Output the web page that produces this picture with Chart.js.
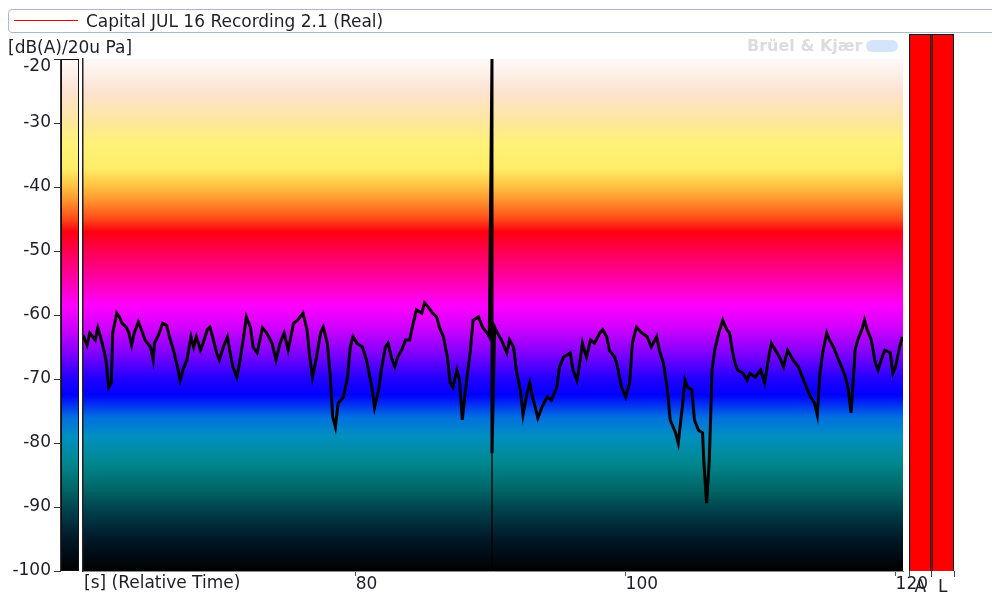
<!DOCTYPE html>
<html><head><meta charset="utf-8">
<script src="https://cdn.jsdelivr.net/npm/chart.js@4.4.1/dist/chart.umd.min.js"></script>
<style>
html,body{margin:0;padding:0;background:#fff;width:992px;height:596px;overflow:hidden;font-family:"DejaVu Sans",sans-serif;color:#1e1e28;}
#main{position:absolute;left:0;top:0;}
#bars{position:absolute;left:905px;top:30px;}
.t{position:absolute;white-space:nowrap;font-size:17px;line-height:20px;}
#lgbox{position:absolute;left:8px;top:9px;width:1000px;height:24px;border:1px solid #a9b9cf;border-radius:4px;box-sizing:border-box;}
#lgline{position:absolute;left:14px;top:20px;width:64px;height:1px;background:#e60000;}
#logo{position:absolute;left:866px;top:40px;width:32px;height:12px;border-radius:6px;background:#d4e4fa;}
</style></head><body>
<canvas id="main" width="992" height="596"></canvas>
<canvas id="bars" width="55" height="566"></canvas>
<div id="lgbox"></div><div id="lgline"></div>
<div class="t" style="left:86px;top:11px;">Capital JUL 16 Recording 2.1 (Real)</div>
<div class="t" style="left:8px;top:37px;">[dB(A)/20u Pa]</div>
<div class="t" style="left:747px;top:36px;font-size:16px;font-weight:bold;color:#dcdcdc;">Brüel &amp; Kjær</div>
<div id="logo"></div>
<div class="t" style="left:84px;top:572px;">[s] (Relative Time)</div>
<script>
// ---- data ----
const timeSec = [59.8,60.1,60.3,60.7,60.9,61.2,61.5,61.7,61.9,62.0,62.3,62.5,62.7,63.0,63.2,63.4,63.6,63.9,64.2,64.4,64.8,65.0,65.1,65.4,65.7,66.0,66.2,66.5,66.8,67.0,67.2,67.5,67.8,68.0,68.2,68.5,68.7,69.0,69.2,69.4,69.7,69.9,70.2,70.5,70.7,70.9,71.2,71.4,71.7,71.9,72.2,72.4,72.7,73.1,73.4,73.8,74.1,74.4,74.7,75.0,75.4,75.7,76.1,76.4,76.6,76.8,77.1,77.4,77.6,77.9,78.1,78.3,78.5,78.7,79.1,79.4,79.6,79.8,80.1,80.5,80.8,81.2,81.4,81.7,81.9,82.2,82.4,82.7,82.9,83.1,83.4,83.7,84.0,84.2,84.5,84.9,85.1,85.4,85.7,86.0,86.2,86.5,86.8,87.0,87.2,87.5,87.7,87.9,88.2,88.5,88.7,89.1,89.4,89.7,89.9,90.1,90.1,90.3,90.5,90.8,91.2,91.4,91.7,91.9,92.2,92.4,92.7,92.9,93.1,93.5,93.8,94.2,94.5,94.9,95.1,95.4,95.9,96.1,96.4,96.6,96.8,97.1,97.4,97.7,98.1,98.3,98.6,98.8,99.2,99.4,99.7,100.0,100.3,100.5,100.8,101.2,101.6,101.9,102.3,102.5,102.8,103.1,103.3,103.7,103.9,104.2,104.4,104.6,104.9,105.1,105.4,105.7,105.8,106.0,106.2,106.3,106.4,106.6,106.9,107.2,107.5,107.7,107.9,108.1,108.3,108.7,109.0,109.2,109.6,110.0,110.3,110.6,110.8,111.1,111.4,111.7,112.0,112.4,112.8,113.1,113.4,113.7,114.0,114.2,114.4,114.6,114.9,115.1,115.4,115.7,116.0,116.3,116.5,116.7,116.9,117.0,117.2,117.5,117.7,117.9,118.2,118.5,118.7,119.0,119.2,119.6,119.8,120.0,120.3,120.5];
const levelDb = [-63.1,-64.7,-62.8,-63.9,-62.0,-64.2,-67.0,-71.3,-70.6,-62.8,-59.7,-60.3,-61.3,-61.9,-62.8,-64.7,-62.8,-61.1,-62.7,-63.9,-65.0,-67.0,-64.4,-63.1,-61.3,-61.6,-63.4,-65.5,-68.1,-70.2,-68.6,-67.0,-63.4,-65.0,-63.4,-65.5,-64.4,-62.3,-61.9,-63.4,-65.9,-67.0,-65.0,-63.4,-65.9,-68.1,-69.7,-67.5,-63.4,-60.3,-61.9,-65.0,-65.9,-62.0,-62.8,-64.4,-67.0,-64.4,-62.8,-65.5,-61.3,-60.8,-59.7,-62.3,-66.6,-69.7,-66.6,-62.8,-61.9,-64.4,-69.1,-75.9,-77.5,-73.8,-72.8,-69.7,-65.0,-63.4,-64.4,-65.0,-67.0,-71.3,-74.4,-71.7,-68.6,-65.0,-64.4,-67.0,-68.1,-66.6,-65.5,-63.9,-63.9,-61.9,-59.2,-59.7,-58.1,-58.8,-59.7,-60.3,-61.9,-63.4,-66.6,-70.6,-71.3,-68.6,-70.2,-76.4,-70.6,-65.5,-60.8,-60.3,-61.9,-62.7,-63.4,-20.0,-81.6,-61.9,-62.8,-63.9,-65.9,-63.9,-65.0,-68.6,-71.7,-75.6,-72.2,-70.6,-72.8,-76.1,-74.4,-72.8,-73.3,-71.3,-68.1,-66.6,-65.9,-68.6,-70.2,-67.5,-64.4,-66.6,-63.9,-64.4,-62.8,-62.3,-63.4,-65.5,-66.6,-68.1,-71.3,-72.8,-70.6,-64.4,-61.9,-62.8,-63.4,-65.0,-63.4,-65.5,-67.5,-71.7,-76.4,-78.4,-80.0,-74.4,-70.2,-71.3,-71.7,-76.4,-78.0,-78.4,-83.1,-89.4,-82.7,-75.9,-68.6,-65.5,-62.8,-60.8,-62.3,-62.8,-65.5,-67.5,-68.6,-69.1,-70.2,-69.1,-69.7,-68.6,-70.6,-66.6,-64.4,-65.5,-66.6,-68.1,-65.5,-67.0,-68.1,-69.7,-71.3,-72.8,-73.8,-75.6,-69.1,-65.9,-62.8,-63.9,-65.0,-66.6,-68.1,-69.7,-71.7,-75.3,-69.1,-65.5,-63.9,-62.3,-60.8,-62.3,-63.9,-67.5,-68.6,-66.6,-65.5,-65.9,-69.1,-68.1,-65.0,-63.4];
const cursorTime = 90.1;
const xRange = [59.8, 120.55];
const yRange = [-100, -20];
const xTickValues = [80, 100, 120];
const yTickValues = [-20, -30, -40, -50, -60, -70, -80, -90, -100];
const meterLabels = ['A', 'L'];
const meterLevels = [-16, -16];
const meterRange = [-100, -16];
const colorMapDb = [-20, -25, -30, -33, -37, -40, -42.5, -45, -47, -50, -54, -58.5, -62, -66, -70, -72.5, -76, -79, -83, -87, -91, -95, -100];
const colorMapHex = ['#fefafa','#fde3d2','#fce79a','#fff27a','#ffee68','#ffc040','#ff8a2a','#ff4a18','#ff0010','#ff0050','#ff00a0','#ff00ff','#d000ff','#8000ff','#2000ff','#0000ff','#0070e0','#0090c0','#008890','#006868','#003c48','#001828','#000000'];

const FONT = {family: '"DejaVu Sans", sans-serif', size: 17, lineHeight: 0.85};
const TXT = '#1e1e28';

function makeGradient(ctx, y) {
  const top = y.getPixelForValue(yRange[1]), bot = y.getPixelForValue(yRange[0]);
  const g = ctx.createLinearGradient(0, top, 0, bot);
  colorMapDb.forEach((v, i) => g.addColorStop((y.getPixelForValue(v) - top) / (bot - top), colorMapHex[i]));
  return g;
}

const bgPlugin = {
  id: 'bg',
  beforeDraw(chart) {
    const {ctx, chartArea: a, scales: {y}} = chart;
    const g = makeGradient(ctx, y);
    ctx.save();
    ctx.fillStyle = g;
    ctx.fillRect(a.left, a.top, a.right - a.left, a.bottom - a.top);
    // colour bar
    const cl = a.left - 22, cr = a.left - 4;
    ctx.fillRect(cl, a.top, cr - cl, a.bottom - a.top);
    ctx.strokeStyle = '#111'; ctx.lineWidth = 1;
    ctx.strokeRect(cl + 0.5, a.top + 0.5, cr - cl - 1, a.bottom - a.top - 1);
    // y tick marks left of the colour bar
    ctx.strokeStyle = '#333';
    ctx.beginPath();
    y.ticks.forEach(t => { const p = Math.round(y.getPixelForValue(t.value)) + 0.5; ctx.moveTo(cl - 7, p); ctx.lineTo(cl, p); });
    ctx.moveTo(cl - 0.5, a.top); ctx.lineTo(cl - 0.5, a.bottom);
    ctx.stroke();
    ctx.restore();
  }
};

new Chart(document.getElementById('main'), {
  type: 'line',
  data: {datasets: [
    {data: timeSec.map((t, i) => ({x: t, y: levelDb[i]})), borderColor: '#000', borderWidth: 3, pointRadius: 0, tension: 0, borderJoinStyle: 'miter'},
    {data: [{x: cursorTime, y: yRange[1]}, {x: cursorTime, y: yRange[0]}], borderColor: '#000', borderWidth: 1.3, pointRadius: 0}
  ]},
  options: {
    animation: false, responsive: false, devicePixelRatio: 1,
    layout: {padding: {left: 0, top: 59, right: 89, bottom: 0}},
    plugins: {legend: {display: false}, tooltip: {enabled: false}},
    scales: {
      x: {type: 'linear', min: xRange[0], max: xRange[1],
        afterBuildTicks: s => { s.ticks = xTickValues.map(v => ({value: v})); },
        afterFit: s => { s.height = 25; },
        ticks: {align: 'start', padding: -2, font: {family: FONT.family, size: 17}, color: TXT, maxRotation: 0, autoSkip: false},
        grid: {drawOnChartArea: false, drawTicks: true, tickLength: 5, color: '#555'},
        border: {display: true, color: '#8a8a8a'}},
      y: {min: yRange[0], max: yRange[1],
        afterBuildTicks: s => { s.ticks = yTickValues.map(v => ({value: v})); },
        afterFit: s => { s.width = 83; },
        ticks: {padding: 0, font: FONT, color: TXT, autoSkip: false,
          callback: v => v === yRange[1] ? ['', String(v)] : String(v)},
        grid: {drawOnChartArea: false, drawTicks: true, tickLength: 32, color: 'rgba(0,0,0,0)'},
        border: {display: true, color: '#222', width: 1.5}}
    }
  },
  plugins: [bgPlugin]
});

new Chart(document.getElementById('bars'), {
  type: 'bar',
  data: {labels: meterLabels, datasets: [{data: meterLevels, base: meterRange[0], backgroundColor: '#ff0000', borderColor: '#1a1a1a', borderWidth: 1.5, barPercentage: 1, categoryPercentage: 1}]},
  options: {
    animation: false, responsive: false, devicePixelRatio: 1,
    layout: {padding: {left: 4, right: 6, top: 4, bottom: 0}},
    plugins: {legend: {display: false}, tooltip: {enabled: false}},
    scales: {
      x: {afterFit: s => { s.height = 25; },
        ticks: {font: {family: FONT.family, size: 17}, color: TXT, padding: 0},
        grid: {drawOnChartArea: false, drawTicks: true, tickLength: 6, color: '#444'},
        border: {display: false}},
      y: {display: false, min: meterRange[0], max: meterRange[1]}
    }
  }
});
</script>
</body></html>
